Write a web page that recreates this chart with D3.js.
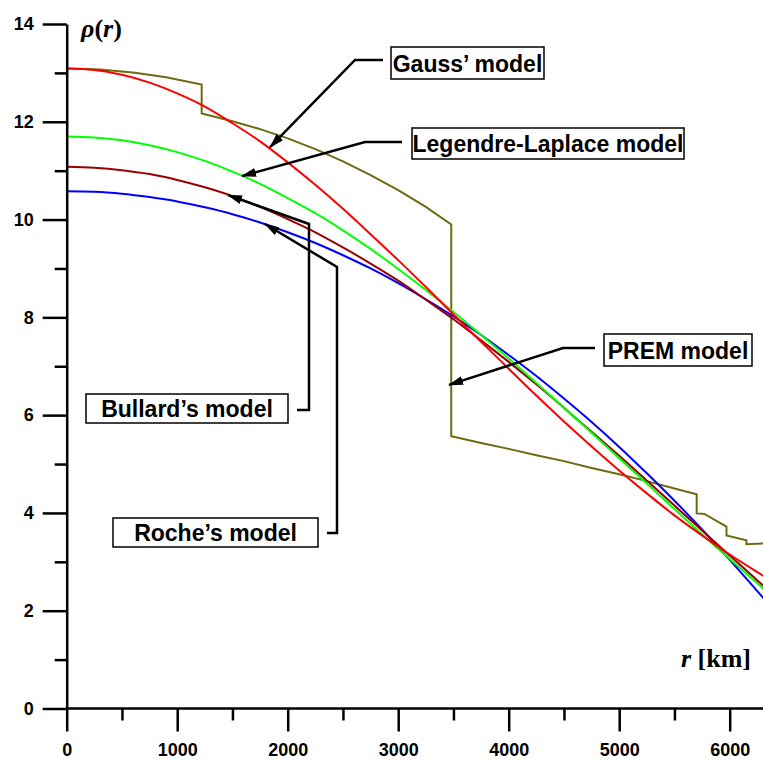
<!DOCTYPE html>
<html>
<head>
<meta charset="utf-8">
<script src="https://cdn.jsdelivr.net/npm/d3@7/dist/d3.min.js"></script>
<style>
  html, body { margin: 0; padding: 0; background: #fff; }
  svg { display: block; }
</style>
</head>
<body>
<svg id="chart" width="763" height="760"></svg>
<script>
// ---------- data ----------
const radiusKm = [0,250,500,750,1000,1250,1500,1750,2000,2250,2500,2750,3000,3250,3500,3750,4000,4250,4500,4750,5000,5250,5500,5750,6000,6250,6371];
const gaussRho    = [13.09,13.06,12.96,12.80,12.58,12.31,11.97,11.60,11.17,10.71,10.22,9.70,9.17,8.62,8.06,7.50,6.95,6.40,5.87,5.36,4.87,4.40,3.95,3.54,3.15,2.79,2.62];
const legendreRho = [11.70,11.68,11.62,11.52,11.38,11.20,10.98,10.73,10.44,10.13,9.78,9.40,8.99,8.56,8.11,7.64,7.16,6.66,6.15,5.64,5.12,4.60,4.08,3.56,3.06,2.56,2.32];
const bullardRho  = [11.08,11.06,11.01,10.93,10.81,10.66,10.48,10.26,10.01,9.74,9.43,9.10,8.75,8.36,7.96,7.53,7.09,6.63,6.15,5.66,5.17,4.66,4.15,3.64,3.13,2.62,2.38];
const rocheRho    = [10.58,10.57,10.53,10.46,10.37,10.25,10.11,9.94,9.74,9.52,9.27,9.00,8.70,8.37,8.02,7.64,7.23,6.80,6.34,5.86,5.35,4.81,4.25,3.66,3.04,2.40,2.08];

const premRadiusKm = [0,300,600,900,1221.5,1221.5,1500,1750,2000,2250,2500,2750,3000,3250,3480,3480,3750,4000,4250,4500,4750,5000,5250,5500,5701,5701,5771,5971,5971,6151,6151,6346.6,6346.6,6356,6356,6368,6368,6371];
const premRho      = [13.09,13.07,13.01,12.91,12.76,12.17,12.01,11.85,11.66,11.44,11.19,10.91,10.60,10.26,9.90,5.57,5.43,5.31,5.18,5.06,4.92,4.79,4.65,4.50,4.38,3.99,3.98,3.72,3.54,3.44,3.36,3.38,2.90,2.90,2.60,2.60,1.02,1.02];

const xMajorTicks = [0,1000,2000,3000,4000,5000,6000];
const xMinorTicks = [500,1500,2500,3500,4500,5500];
const yMajorTicks = [0,2,4,6,8,10,12,14];
const yMinorTicks = [1,3,5,7,9,11,13];

const seriesNames  = ["Gauss’ model","Legendre-Laplace model","Bullard’s model","Roche’s model","PREM model"];

// ---------- layout ----------
const svg = d3.select("#chart");
const x = d3.scaleLinear().domain([0, 6371]).range([66.7, 770.7]);
const y = d3.scaleLinear().domain([0, 14]).range([708.5, 24]);

const axisColor = "#000";
const sans = "'Liberation Sans', Arial, sans-serif";
const serif = "'Liberation Serif', 'Times New Roman', serif";

// ---------- curves ----------
const line = d3.line().x(d => x(d[0])).y(d => y(d[1])).curve(d3.curveMonotoneX);
const premLine = d3.line().x(d => x(d[0])).y(d => y(d[1])).curve(d3.curveLinear);

const smooth = [
  {vals: rocheRho,    color: "#0000ff"},
  {vals: bullardRho,  color: "#990000"},
  {vals: legendreRho, color: "#00ff00"},
  {vals: gaussRho,    color: "#ff0000"}
];

svg.append("path")
  .attr("d", premLine(premRadiusKm.map((r, i) => [r, premRho[i]])))
  .attr("fill", "none").attr("stroke", "#6e6a0e").attr("stroke-width", 2);

smooth.forEach(s => {
  svg.append("path")
    .attr("d", line(radiusKm.map((r, i) => [r, s.vals[i]])))
    .attr("fill", "none").attr("stroke", s.color).attr("stroke-width", 2);
});

// ---------- axes ----------
function styleAxis(g) {
  g.select(".domain").attr("stroke", axisColor).attr("stroke-width", 2.5);
  g.selectAll(".tick line").attr("stroke", axisColor).attr("stroke-width", 2.5);
  g.selectAll(".tick text")
    .attr("fill", "#000").style("font-family", sans)
    .style("font-weight", "bold").style("font-size", "18px");
}

const yMajor = svg.append("g").attr("transform", `translate(${x(0)},0)`)
  .call(d3.axisLeft(y).tickValues(yMajorTicks).tickSize(24).tickPadding(9).tickSizeOuter(0).tickFormat(d3.format("d")));
styleAxis(yMajor);
const yMinor = svg.append("g").attr("transform", `translate(${x(0)},0)`)
  .call(d3.axisLeft(y).tickValues(yMinorTicks).tickSize(12).tickSizeOuter(0).tickFormat(""));
styleAxis(yMinor);
yMinor.select(".domain").remove();

const xMajor = svg.append("g").attr("transform", `translate(0,${y(0)})`)
  .call(d3.axisBottom(x).tickValues(xMajorTicks).tickSize(23).tickPadding(12).tickSizeOuter(0).tickFormat(d3.format("d")));
styleAxis(xMajor);
xMajor.select(".domain").attr("d", `M${x(0) - 1},0H${x(6371)}`);
const xMinor = svg.append("g").attr("transform", `translate(0,${y(0)})`)
  .call(d3.axisBottom(x).tickValues(xMinorTicks).tickSize(12).tickSizeOuter(0).tickFormat(""));
styleAxis(xMinor);
xMinor.select(".domain").remove();

// ---------- axis titles ----------
const yt = svg.append("text").attr("x", 81).attr("y", 37)
  .style("font-family", serif).style("font-size", "26px").style("font-weight", "bold").attr("fill", "#000");
yt.append("tspan").style("font-style", "italic").text("ρ");
yt.append("tspan").text("(");
yt.append("tspan").style("font-style", "italic").text("r");
yt.append("tspan").text(")");

const xt = svg.append("text").attr("x", 751).attr("y", 667).attr("text-anchor", "end")
  .style("font-family", serif).style("font-size", "26px").style("font-weight", "bold").attr("fill", "#000");
xt.append("tspan").style("font-style", "italic").text("r");
xt.append("tspan").text(" [km]");

// ---------- annotations ----------
const defs = svg.append("defs");
defs.append("marker").attr("id", "arrow")
  .attr("viewBox", "0 -5 15 10").attr("refX", 14).attr("refY", 0)
  .attr("markerWidth", 15).attr("markerHeight", 10)
  .attr("markerUnits", "userSpaceOnUse").attr("orient", "auto")
  .append("path").attr("d", "M0,-4.5L15,0L0,4.5Z").attr("fill", "#000");

const notes = [
  {name: seriesNames[0], tip: [1840, 11.48], path: [[383,60],[355,60]],          box: [391,47,544,79]},
  {name: seriesNames[1], tip: [1587, 10.89], path: [[402,142],[365,142]],        box: [412,128,684,159]},
  {name: seriesNames[2], tip: [1460, 10.50], path: [[297,410],[309,410],[309,224]], box: [86,394,288,423]},
  {name: seriesNames[3], tip: [1795, 9.91],  path: [[327,533],[337,533],[337,267]], box: [113,518,318,547]},
  {name: seriesNames[4], tip: [3460, 6.62],  path: [[595,348],[563,348]],        box: [604,334,752,366]}
];

notes.forEach(n => {
  const pts = n.path.concat([[x(n.tip[0]), y(n.tip[1])]]);
  svg.append("path")
    .attr("d", d3.line()(pts))
    .attr("fill", "none").attr("stroke", "#000").attr("stroke-width", 2.5)
    .attr("stroke-linejoin", "miter")
    .attr("marker-end", "url(#arrow)");
  const [x0, y0, x1, y1] = n.box;
  svg.append("rect").attr("x", x0).attr("y", y0).attr("width", x1 - x0).attr("height", y1 - y0)
    .attr("fill", "#fff").attr("stroke", "#000").attr("stroke-width", 1.5);
  svg.append("text").attr("x", (x0 + x1) / 2).attr("y", (y0 + y1) / 2 + 8.5)
    .attr("text-anchor", "middle")
    .style("font-family", sans).style("font-weight", "bold").style("font-size", "23px")
    .attr("fill", "#000").text(n.name);
});
</script>
</body>
</html>
